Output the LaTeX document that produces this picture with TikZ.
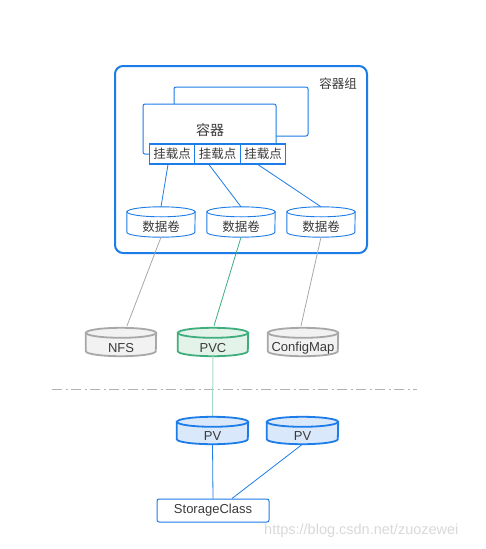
\documentclass[tikz,border=0pt]{standalone}
\usepackage{fontspec}
\setmainfont{Liberation Sans}
\newfontfamily\cjk{Noto Sans CJK SC}
\usetikzlibrary{calc}
\definecolor{kblue}{HTML}{1C7CE8}
\definecolor{pvfill}{HTML}{DAE8FC}
\definecolor{kgray}{HTML}{A8A8A8}
\definecolor{gfill}{HTML}{F2F2F2}
\definecolor{kgreen}{HTML}{3FAE7C}
\definecolor{lgreen}{HTML}{E3F3EA}
\definecolor{pgreen}{HTML}{A6DCC3}
\definecolor{ktext}{HTML}{3A3A3A}
\definecolor{wm}{HTML}{D9D9D9}
% cylinder outline drawn on a named node: #1 node, #2 x radius (pt), #3 draw, #4 fill, #5 line width
\newcommand\cylbody[5]{%
  \path[draw=#3,fill=#4,line width=#5]
    ([yshift=-5pt]#1.north west) -- ([yshift=5pt]#1.south west)
    arc[start angle=180,end angle=360,x radius=#2pt,y radius=5pt]
    -- ([yshift=-5pt]#1.north east) -- cycle;
  \path[draw=#3,fill=#4,line width=#5]
    ([yshift=-5pt]#1.north) ellipse[x radius=#2pt,y radius=5pt];
}
\tikzset{
  box/.style={draw=kblue,fill=white,line width=1pt,rounded corners=2pt,inner sep=0pt},
  mount/.style={draw=kblue,fill=white,line width=1.2pt,minimum width=45.5pt,minimum height=20pt,inner sep=0pt,font=\cjk\fontsize{12.5}{14}\selectfont,text=ktext},
  cylnode/.style={inner sep=0pt,minimum height=#1},
  cyltext/.style={font=\fontsize{13}{15}\selectfont,text=ktext},
  cjktext/.style={font=\cjk\fontsize{12.5}{14}\selectfont,text=ktext},
  bluelink/.style={draw=kblue,line width=0.8pt},
  graylink/.style={draw=kgray,line width=0.8pt},
}
\begin{document}
\begin{tikzpicture}[x=1pt,y=-1pt]
\useasboundingbox[fill=white] (0,0) rectangle (485,549);

% pod
\node[draw=kblue,line width=2pt,rounded corners=8pt,minimum width=252pt,minimum height=187pt,inner sep=0pt] (pod) at (241,159.5) {};
\node[cjktext,anchor=center] (podlabel) at (338,84) {容器组};

% containers
\node[box,minimum width=134pt,minimum height=49pt] (cback) at (241,111.5) {};
\node[box,minimum width=133pt,minimum height=50pt] (cfront) at (209.5,129) {};
\node[font=\cjk\fontsize{14}{16}\selectfont,text=ktext] (clabel) at (210,130) {容器};

% mount points
\node[mount] (m1) at (172,154) {挂载点};
\node[mount] (m2) at (217.5,154) {挂载点};
\node[mount] (m3) at (263,154) {挂载点};

% data volumes
\foreach \n/\x in {v1/161,v2/241,v3/321}{
  \node[minimum width=68pt,minimum height=30pt,inner sep=0pt] (\n) at (\x,222) {};
}
\cylbody{v1}{34}{kblue}{white}{0.9pt}
\cylbody{v2}{34}{kblue}{white}{0.9pt}
\cylbody{v3}{34}{kblue}{white}{0.9pt}
\node[cjktext] (v1t) at (161,227) {数据卷};
\node[cjktext] (v2t) at (241,227) {数据卷};
\node[cjktext] (v3t) at (321,227) {数据卷};

\draw[bluelink] ([xshift=-4pt]m1.south) -- (v1.north);
\draw[bluelink] ([xshift=-8.5pt]m2.south) -- (v2.north);
\draw[bluelink] ([xshift=-5pt]m3.south) -- (v3.north);

% volume sources
\node[minimum width=70pt,minimum height=28pt,inner sep=0pt] (nfs) at (121,342) {};
\node[minimum width=70pt,minimum height=28pt,inner sep=0pt] (pvc) at (213,342) {};
\node[minimum width=70pt,minimum height=28pt,inner sep=0pt] (cm) at (303,342) {};

\draw[graylink] (v1.south) -- ([xshift=6pt,yshift=2pt]nfs.north);
\draw[draw=kgreen,line width=0.8pt] (v2.south) -- ([xshift=1pt,yshift=2pt]pvc.north);
\draw[graylink] (v3.south) -- ([xshift=-2pt,yshift=2pt]cm.north);

\cylbody{nfs}{35}{kgray}{gfill}{1.8pt}
\cylbody{pvc}{35}{kgreen}{lgreen}{1.8pt}
\cylbody{cm}{35}{kgray}{gfill}{1.8pt}
\node[cyltext] (nfst) at (121,348) {NFS};
\node[cyltext] (pvct) at (213,348) {PVC};
\node[cyltext] (cmt) at (303,348) {ConfigMap};

% separator
\coordinate (sepL) at (52,389);
\coordinate (sepR) at (417,389);
\draw[draw=black!30,line width=1pt,dash pattern=on 10pt off 3.5pt on 2pt off 3.5pt] (sepL) -- (sepR);

% persistent volumes
\node[minimum width=71pt,minimum height=27pt,inner sep=0pt] (pv1) at (212.5,430.5) {};
\node[minimum width=71pt,minimum height=27pt,inner sep=0pt] (pv2) at (302.5,430.5) {};
\draw[draw=pgreen,line width=1pt] (pvc.south) -- (pv1.north);
\cylbody{pv1}{35.5}{kblue}{pvfill}{1.8pt}
\cylbody{pv2}{35.5}{kblue}{pvfill}{1.8pt}
\node[cyltext] (pv1t) at (212.5,436) {PV};
\node[cyltext] (pv2t) at (302.5,436) {PV};

% storage class
\node[box,minimum width=112pt,minimum height=23pt,font=\fontsize{13}{15}\selectfont,text=ktext] (sc) at (213,510.5) {StorageClass};
\draw[bluelink] (pv1.south) -- (sc.north);
\draw[bluelink] (pv2.south) -- ([xshift=19pt]sc.north);

% watermark
\node[anchor=west,inner sep=0pt,font=\fontsize{14.5}{16}\selectfont,text=wm] (wmark) at (264,531) {https://blog.csdn.net/zuozewei};
\end{tikzpicture}
\end{document}
